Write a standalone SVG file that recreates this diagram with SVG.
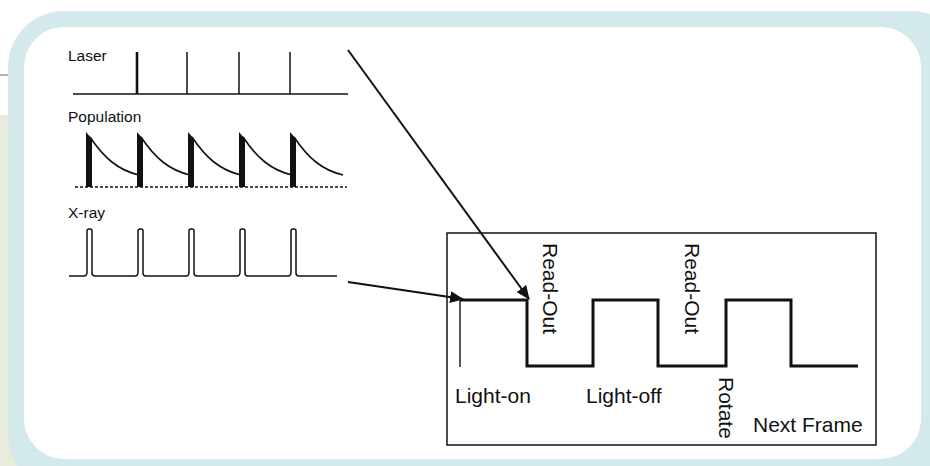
<svg xmlns="http://www.w3.org/2000/svg" width="930" height="466" viewBox="0 0 930 466">
<style>
.lbl{font-family:"Liberation Sans",Arial,sans-serif;font-size:15.5px;fill:#111}
.big{font-family:"Liberation Sans",Arial,sans-serif;font-size:21px;fill:#111}
.ln{fill:none;stroke:#111;stroke-width:1.5}
.thick{fill:none;stroke:#111;stroke-width:3}
.conn{fill:none;stroke:#111;stroke-width:2}
</style>
<defs>
<marker id="ah" markerUnits="userSpaceOnUse" markerWidth="14" markerHeight="12" refX="13" refY="6" orient="auto">
<path d="M0,0 L14,6 L0,12 Z" fill="#111"/>
</marker>
<g id="popPulse">
<polygon points="0,187 0,132 6,139 6,187" fill="#111"/>
<path d="M4,137 C18,158 32,170 53,175" fill="none" stroke="#111" stroke-width="1.6"/>
</g>
</defs>
<g id="background">
<rect x="0" y="0" width="930" height="466" fill="#ffffff"/>
<rect x="0" y="115" width="40" height="351" fill="#e8ecda"/>
<line x1="0" y1="75" x2="24" y2="75" stroke="#666" stroke-width="1"/>
<rect x="8" y="11" width="960" height="480" rx="56" fill="#d4e9ec"/>
<rect x="24" y="27" width="897" height="432" rx="40" fill="#ffffff"/>
</g>
<g id="laser">
<text class="lbl" x="68" y="61">Laser</text>
<line class="ln" x1="73" y1="94" x2="348" y2="94"/>
<line x1="137" y1="52" x2="137" y2="94" stroke="#111" stroke-width="2.6"/>
<line x1="187" y1="52" x2="187" y2="94" stroke="#111" stroke-width="1.5"/>
<line x1="239" y1="52" x2="239" y2="94" stroke="#111" stroke-width="1.5"/>
<line x1="290" y1="52" x2="290" y2="94" stroke="#111" stroke-width="1.5"/>
</g>
<g id="population">
<text class="lbl" x="68" y="122">Population</text>
<line x1="75" y1="187" x2="347" y2="187" stroke="#111" stroke-width="1.5" stroke-dasharray="3,2"/>
<use href="#popPulse" x="86"/>
<use href="#popPulse" x="137"/>
<use href="#popPulse" x="188"/>
<use href="#popPulse" x="239"/>
<use href="#popPulse" x="290"/>
</g>
<g id="xray">
<text class="lbl" x="68" y="218">X-ray</text>
<path class="ln" stroke-width="1.4" d="M69,276 H84 Q87,276 87,272 V231 Q87,229 89,229 H90 Q92,229 92,231 V273 Q92,276 95,276 H135 Q138,276 138,272 V231 Q138,229 140,229 H141 Q143,229 143,231 V273 Q143,276 146,276 H186 Q189,276 189,272 V231 Q189,229 191,229 H192 Q194,229 194,231 V273 Q194,276 197,276 H237 Q240,276 240,272 V231 Q240,229 242,229 H243 Q245,229 245,231 V273 Q245,276 248,276 H288 Q291,276 291,272 V231 Q291,229 293,229 H294 Q296,229 296,231 V273 Q296,276 299,276 H337"/>
</g>
<g id="timing-box">
<rect x="447" y="233" width="429" height="212" fill="none" stroke="#111" stroke-width="1.5"/>
<line x1="460" y1="300" x2="460" y2="367" stroke="#111" stroke-width="1.4"/>
<path class="thick" d="M460,300 H527 V366 H593 V300 H658 V366 H726 V300 H791 V366 H858"/>
<text class="big" transform="translate(543,243) rotate(90)">Read-Out</text>
<text class="big" transform="translate(685,243) rotate(90)">Read-Out</text>
<text class="big" transform="translate(719,377) rotate(90)">Rotate</text>
<text class="big" x="455" y="403">Light-on</text>
<text class="big" x="586" y="403">Light-off</text>
<text class="big" x="753" y="432">Next Frame</text>
</g>
<g id="connectors">
<line class="conn" x1="348" y1="50" x2="529" y2="299" marker-end="url(#ah)"/>
<line class="conn" stroke-width="2.4" x1="348" y1="282" x2="463" y2="299" marker-end="url(#ah)"/>
</g>
</svg>
